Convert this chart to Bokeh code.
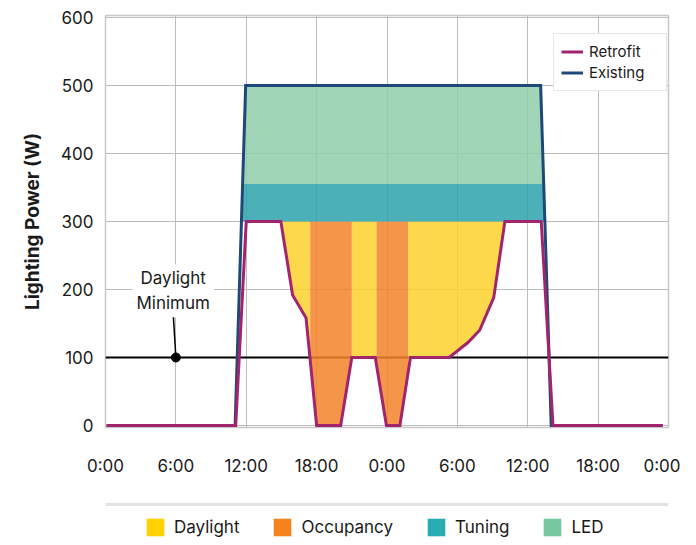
import numpy as np
from bokeh.plotting import figure
from bokeh.models import (Range1d, FixedTicker, Legend, LegendItem, Span, Label)
from bokeh.layouts import column
from bokeh.embed import file_html
from bokeh.resources import INLINE

# ---------------- data ----------------
hours_retrofit = [0.1, 11.1, 12.0, 14.95, 15.95, 17.1, 18.0, 20.05, 21.0, 23.0,
                  23.95, 25.1, 26.0, 29.3, 30.9, 31.9, 33.1, 34.05, 37.15, 38.15, 47.5]
retrofit_w = [0, 0, 300, 300, 192, 158, 0, 0, 100, 100,
              0, 0, 100, 100, 122, 140, 188, 300, 300, 0, 0]

hours_existing = [0.1, 11.05, 11.95, 37.1, 38.0, 47.5]
existing_w = [0, 0, 500, 500, 0, 0]

retrofit_level = 300          # lighting power after all measures
tuning_level = 355            # top of the tuning savings band
daylight_min = 100            # daylight minimum power
daylight_windows = [(14.95, 17.45), (21.0, 23.1), (25.8, 34.05)]
occupancy_windows = [(17.45, 21.0), (23.1, 25.8)]

x_ticks = [0, 6, 12, 18, 24, 30, 36, 42, 48]
x_tick_labels = ["0:00", "6:00", "12:00", "18:00", "0:00", "6:00", "12:00", "18:00", "0:00"]
y_ticks = [0, 100, 200, 300, 400, 500, 600]

categories = ["Daylight", "Occupancy", "Tuning", "LED"]
cat_colors = ["#fed200", "#f5821f", "#29abb2", "#76c8a0"]
fill_colors = ["#fdd12a", "#f2832a", "#2ba2ab", "#8fceab"]

annot_hour = 6
annot_label_hour = 5.77
annot_label_y = 198
annot_leader_top = 165

FONT = "Inter"
TXT = "#1a1a1a"

# ---------------- helpers ----------------
def under_retrofit(a, b):
    xs = [a] + [h for h in hours_retrofit if a < h < b] + [b]
    ys = np.interp(xs, hours_retrofit, retrofit_w)
    return xs, ys

def rise_x(level):
    return float(np.interp(level, existing_w[1:3], hours_existing[1:3]))

def fall_x(level):
    return float(np.interp(level, existing_w[4:2:-1], hours_existing[4:2:-1]))

# ---------------- main figure ----------------
p = figure(width=680, height=502, output_backend="svg", toolbar_location=None,
           x_range=Range1d(0, 48), y_range=Range1d(-3, 603),
           min_border_left=105, min_border_right=11, min_border_top=15, min_border_bottom=75)

p.outline_line_color = "#c8c8c8"
p.outline_line_width = 1.5
p.background_fill_color = "white"
p.border_fill_color = "white"

p.xaxis.ticker = FixedTicker(ticks=x_ticks)
p.xaxis.major_label_overrides = {t: l for t, l in zip(x_ticks, x_tick_labels)}
p.yaxis.ticker = FixedTicker(ticks=y_ticks)
for ax in (p.xaxis, p.yaxis):
    ax.axis_line_color = None
    ax.major_tick_line_color = None
    ax.minor_tick_line_color = None
    ax.major_tick_in = 0
    ax.major_tick_out = 0
    ax.major_label_text_font = FONT
    ax.major_label_text_font_size = "17px"
    ax.major_label_text_color = TXT
p.xaxis.major_label_standoff = 28
p.yaxis.major_label_standoff = 12
p.yaxis.axis_label = "Lighting Power (W)"
p.yaxis.axis_label_text_font = FONT
p.yaxis.axis_label_text_font_size = "19px"
p.yaxis.axis_label_text_font_style = "bold"
p.yaxis.axis_label_text_color = TXT
p.yaxis.axis_label_standoff = 14

p.xgrid.ticker = FixedTicker(ticks=x_ticks)
p.ygrid.ticker = FixedTicker(ticks=y_ticks)
p.grid.grid_line_color = "#bdbdbd"
p.grid.grid_line_width = 1

# daylight minimum reference line (under fills)
p.add_layout(Span(location=daylight_min, dimension="width", line_color="black",
                  line_width=2, level="underlay"))

ALPHA = 0.85
for a, b in daylight_windows:
    xs, ys = under_retrofit(a, b)
    p.varea(x=xs, y1=ys, y2=retrofit_level, fill_color=fill_colors[0], fill_alpha=ALPHA)
for a, b in occupancy_windows:
    xs, ys = under_retrofit(a, b)
    p.varea(x=xs, y1=ys, y2=retrofit_level, fill_color=fill_colors[1], fill_alpha=ALPHA)
p.patch(x=[rise_x(retrofit_level), rise_x(tuning_level), fall_x(tuning_level), fall_x(retrofit_level)],
        y=[retrofit_level, tuning_level, tuning_level, retrofit_level],
        fill_color=fill_colors[2], fill_alpha=ALPHA, line_color=None)
top = max(existing_w)
p.patch(x=[rise_x(tuning_level), rise_x(top), fall_x(top), fall_x(tuning_level)],
        y=[tuning_level, top, top, tuning_level],
        fill_color=fill_colors[3], fill_alpha=ALPHA, line_color=None)

r_exist = p.line(hours_existing, existing_w, line_color="#1d4877", line_width=3, line_join="miter")
r_retro = p.line(hours_retrofit, retrofit_w, line_color="#a3246e", line_width=3, line_join="miter")

p.segment(x0=[annot_hour], y0=[daylight_min], x1=[annot_label_hour], y1=[annot_leader_top],
          line_color="black", line_width=1.5)
p.scatter(x=[annot_hour], y=[daylight_min], size=9, color="black")
p.add_layout(Label(x=annot_label_hour, y=annot_label_y, text="Daylight\nMinimum",
                   text_align="center", text_baseline="middle", text_font=FONT,
                   text_font_size="17px", text_color=TXT, text_line_height=1.25,
                   background_fill_color="white", padding=4))

legend = Legend(items=[LegendItem(label="Retrofit", renderers=[r_retro]),
                       LegendItem(label="Existing", renderers=[r_exist])],
                location=(448, 336), padding=7, spacing=0, margin=0,
                glyph_width=22, glyph_height=21, label_height=21, label_standoff=6,
                label_width=70,
                label_text_font=FONT, label_text_font_size="15px", label_text_color=TXT,
                border_line_color="#d0d0d0", border_line_width=1.5,
                background_fill_color="white", background_fill_alpha=1)
p.add_layout(legend)

# ---------------- bottom legend ----------------
p2 = figure(width=680, height=36, output_backend="svg", toolbar_location=None,
            x_range=Range1d(0, 1), y_range=Range1d(0, 36),
            x_axis_type=None, y_axis_type=None,
            min_border_left=105, min_border_right=12, min_border_top=0, min_border_bottom=0)
p2.outline_line_color = None
p2.add_layout(Span(location=34, dimension="width", line_color="#e2e2e2", line_width=3))
items = []
for name, c in zip(categories, cat_colors):
    r = p2.quad(left=[np.nan], right=[np.nan], top=[np.nan], bottom=[np.nan],
                fill_color=c, line_color=None)
    items.append(LegendItem(label=name, renderers=[r]))
leg2 = Legend(items=items, orientation="horizontal", location=(39, 0),
              padding=0, margin=0, spacing=32, glyph_width=22, glyph_height=22,
              label_height=22, label_standoff=8, label_text_font=FONT,
              label_text_font_size="17px", label_text_color=TXT,
              border_line_color=None, background_fill_alpha=0)
p2.add_layout(leg2)

layout = column(p, p2, spacing=0)
open("out.html", "w").write(file_html(layout, INLINE))
